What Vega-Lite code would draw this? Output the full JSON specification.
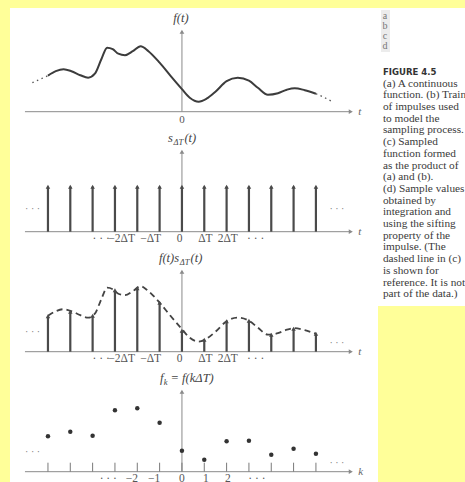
{
  "$schema": "https://vega.github.io/schema/vega-lite/v6.json",
  "background": "#ffff99",
  "padding": {"left": 10, "top": 8, "right": 0, "bottom": 0},
  "config": {"view": {"stroke": null}},
  "datasets": {
    "hAxis": [{"k": -7.03, "k2": 7.55, "h": 0}],
    "vAxis": [{"k": 0, "h": 0, "h2": 80}],
    "arrowR": [{"k": 7.56, "h": 0}],
    "arrowU": [{"k": 0, "h": 80}],
    "axisName": [
      {"panel": "a", "k": 7.9, "h": 0, "txt": "t"},
      {"panel": "b", "k": 7.9, "h": 0, "txt": "t"},
      {"panel": "c", "k": 7.9, "h": 0, "txt": "t"},
      {"panel": "d", "k": 7.9, "h": 0, "txt": "k"}
    ],
    "zeroLabel": [{"k": 0, "h": -8, "txt": "0"}],
    "curve": [
      {"k": -6.0, "h": 36}, {"k": -5.65, "h": 40.5}, {"k": -5.3, "h": 42.5}, {"k": -4.95, "h": 40.5},
      {"k": -4.55, "h": 36.5}, {"k": -4.2, "h": 34}, {"k": -3.9, "h": 38}, {"k": -3.6, "h": 53},
      {"k": -3.35, "h": 64}, {"k": -3.1, "h": 62.5}, {"k": -2.85, "h": 58}, {"k": -2.55, "h": 56.5},
      {"k": -2.2, "h": 60.5}, {"k": -1.85, "h": 65.5}, {"k": -1.5, "h": 60.5}, {"k": -1.0, "h": 49},
      {"k": -0.5, "h": 35.5}, {"k": 0.0, "h": 22.5}, {"k": 0.35, "h": 14}, {"k": 0.75, "h": 10},
      {"k": 1.1, "h": 13}, {"k": 1.5, "h": 20}, {"k": 2.0, "h": 30.5}, {"k": 2.5, "h": 34},
      {"k": 3.0, "h": 31}, {"k": 3.4, "h": 24}, {"k": 3.85, "h": 17}, {"k": 4.3, "h": 18.5},
      {"k": 4.7, "h": 22}, {"k": 5.05, "h": 23.5}, {"k": 5.5, "h": 21.5}, {"k": 6.0, "h": 18}
    ],
    "curveExt": [
      {"side": "L", "k": -6.7, "h": 29}, {"side": "L", "k": -6.35, "h": 32.5}, {"side": "L", "k": -6.0, "h": 36},
      {"side": "R", "k": 6.0, "h": 18}, {"side": "R", "k": 6.35, "h": 14.5}, {"side": "R", "k": 6.7, "h": 10.5}
    ],
    "samples": [
      {"k": -6, "h": 35.5}, {"k": -5, "h": 40}, {"k": -4, "h": 36}, {"k": -3, "h": 61.5},
      {"k": -2, "h": 63.5}, {"k": -1, "h": 49}, {"k": 0, "h": 21}, {"k": 1, "h": 12},
      {"k": 2, "h": 30.5}, {"k": 3, "h": 31}, {"k": 4, "h": 17}, {"k": 5, "h": 23}, {"k": 6, "h": 18}
    ],
    "train": [
      {"k": -6, "h": 45}, {"k": -5, "h": 45}, {"k": -4, "h": 45}, {"k": -3, "h": 45},
      {"k": -2, "h": 45}, {"k": -1, "h": 45}, {"k": 0, "h": 45}, {"k": 1, "h": 45},
      {"k": 2, "h": 45}, {"k": 3, "h": 45}, {"k": 4, "h": 45}, {"k": 5, "h": 45}, {"k": 6, "h": 45}
    ],
    "dots": [
      {"panel": "b", "k": -6.69, "h": 23, "txt": "· · ·"}, {"panel": "b", "k": 6.94, "h": 23, "txt": "· · ·"},
      {"panel": "c", "k": -6.69, "h": 20, "txt": "· · ·"}, {"panel": "c", "k": 6.94, "h": 9, "txt": "· · ·"},
      {"panel": "d", "k": -6.69, "h": 20, "txt": "· · ·"}, {"panel": "d", "k": 6.94, "h": 9, "txt": "· · ·"}
    ],
    "tickLabelsT": [
      {"k": -3.62, "h": -7, "txt": "· · ·"}, {"k": -2.7, "h": -7, "txt": "−2ΔT"}, {"k": -1.4, "h": -7, "txt": "−ΔT"},
      {"k": -0.1, "h": -7, "txt": "0"}, {"k": 1.05, "h": -7, "txt": "ΔT"}, {"k": 2.05, "h": -7, "txt": "2ΔT"},
      {"k": 3.3, "h": -7, "txt": "· · ·"}
    ],
    "tickLabelsK": [
      {"k": -3.3, "h": -7, "txt": "· · ·"}, {"k": -2.24, "h": -7, "txt": "−2"}, {"k": -1.25, "h": -7, "txt": "−1"},
      {"k": 0, "h": -7, "txt": "0"}, {"k": 1.07, "h": -7, "txt": "1"}, {"k": 2.06, "h": -7, "txt": "2"},
      {"k": 3.36, "h": -7, "txt": "· · ·"}
    ],
    "titleMain": [
      {"panel": "a", "k": -0.385, "h": 90, "txt": "f(t)"},
      {"panel": "b", "k": -0.627, "h": 90, "txt": "s"},
      {"panel": "b", "k": 0.112, "h": 90, "txt": "(t)"},
      {"panel": "c", "k": -1.03, "h": 90, "txt": "f(t)s"},
      {"panel": "c", "k": 0.385, "h": 90, "txt": "(t)"},
      {"panel": "d", "k": -0.985, "h": 90, "txt": "f"},
      {"panel": "d", "k": -0.51, "h": 90, "txt": "= f(kΔT)"}
    ],
    "titleSub": [
      {"panel": "b", "k": -0.381, "h": 87, "txt": "ΔT"},
      {"panel": "c", "k": -0.098, "h": 87, "txt": "ΔT"},
      {"panel": "d", "k": -0.82, "h": 87, "txt": "k"}
    ],
    "letterBox": [{"col": -0.023, "col2": 0.086, "line": -5.3, "line2": -1.71}],
    "letters": [
      {"col": 0.025, "line": -4.79, "txt": "a"},
      {"col": 0.025, "line": -3.93, "txt": "b"},
      {"col": 0.025, "line": -3.08, "txt": "c"},
      {"col": 0.025, "line": -2.22, "txt": "d"}
    ],
    "heading": [{"col": 0, "line": 0, "txt": "FIGURE 4.5"}],
    "caption": [
      {"col": 0, "line": 1, "txt": "(a) A continuous"},
      {"col": 0, "line": 2, "txt": "function. (b) Train"},
      {"col": 0, "line": 3, "txt": "of impulses used"},
      {"col": 0, "line": 4, "txt": "to model the"},
      {"col": 0, "line": 5, "txt": "sampling process."},
      {"col": 0, "line": 6, "txt": "(c) Sampled"},
      {"col": 0, "line": 7, "txt": "function formed"},
      {"col": 0, "line": 8, "txt": "as the product of"},
      {"col": 0, "line": 9, "txt": "(a) and (b)."},
      {"col": 0, "line": 10, "txt": "(d) Sample values"},
      {"col": 0, "line": 11, "txt": "obtained by"},
      {"col": 0, "line": 12, "txt": "integration and"},
      {"col": 0, "line": 13, "txt": "using the sifting"},
      {"col": 0, "line": 14, "txt": "property of the"},
      {"col": 0, "line": 15, "txt": "impulse. (The"},
      {"col": 0, "line": 16, "txt": "dashed line in (c)"},
      {"col": 0, "line": 17, "txt": "is shown for"},
      {"col": 0, "line": 18, "txt": "reference. It is not"},
      {"col": 0, "line": 19, "txt": "part of the data.)"}
    ]
  },
  "hconcat": [
    {
      "vconcat": [
        {
          "width": 368, "height": 120,
          "view": {"fill": "#ffffff", "stroke": null},
          "encoding": {
            "x": {"field": "k", "type": "quantitative", "scale": {"domain": [-7.7, 8.78], "nice": false, "zero": false}, "axis": null},
            "y": {"field": "h", "type": "quantitative", "scale": {"domain": [-16.3, 103.7], "nice": false, "zero": false}, "axis": null}
          },
          "layer": [
            {"data": {"name": "hAxis"}, "mark": {"type": "rule", "color": "#8a8a8a", "strokeWidth": 1}, "encoding": {"x2": {"field": "k2"}}},
            {"data": {"name": "vAxis"}, "mark": {"type": "rule", "color": "#8a8a8a", "strokeWidth": 1}, "encoding": {"y2": {"field": "h2"}}},
            {"data": {"name": "arrowR"}, "mark": {"type": "point", "shape": "triangle-right", "filled": true, "size": 22, "color": "#8a8a8a", "opacity": 1}},
            {"data": {"name": "arrowU"}, "mark": {"type": "point", "shape": "triangle-up", "filled": true, "size": 22, "color": "#8a8a8a", "opacity": 1}},
            {"data": {"name": "curveExt"}, "mark": {"type": "line", "color": "#555555", "strokeWidth": 1.3, "strokeDash": [1.5, 3.5], "interpolate": "monotone"}, "encoding": {"detail": {"field": "side"}}},
            {"data": {"name": "curve"}, "mark": {"type": "line", "color": "#3c3c3c", "strokeWidth": 2, "interpolate": "monotone"}},
            {"data": {"name": "zeroLabel"}, "mark": {"type": "text", "font": "Liberation Serif", "fontSize": 11, "color": "#555555", "baseline": "middle"}, "encoding": {"text": {"field": "txt"}}},
            {"data": {"name": "axisName"}, "transform": [{"filter": "datum.panel == 'a'"}], "mark": {"type": "text", "font": "Liberation Serif", "fontStyle": "italic", "fontSize": 11, "color": "#666666", "align": "left", "baseline": "middle"}, "encoding": {"text": {"field": "txt"}}},
            {"data": {"name": "titleMain"}, "transform": [{"filter": "datum.panel == 'a'"}], "mark": {"type": "text", "font": "Liberation Serif", "fontStyle": "italic", "fontSize": 12.5, "color": "#444444", "align": "left", "baseline": "alphabetic"}, "encoding": {"text": {"field": "txt"}}}
          ]
        },
        {
          "width": 368, "height": 120,
          "view": {"fill": "#ffffff", "stroke": null},
          "encoding": {
            "x": {"field": "k", "type": "quantitative", "scale": {"domain": [-7.7, 8.78], "nice": false, "zero": false}, "axis": null},
            "y": {"field": "h", "type": "quantitative", "scale": {"domain": [-16.3, 103.7], "nice": false, "zero": false}, "axis": null}
          },
          "layer": [
            {"data": {"name": "hAxis"}, "mark": {"type": "rule", "color": "#8a8a8a", "strokeWidth": 1}, "encoding": {"x2": {"field": "k2"}}},
            {"data": {"name": "vAxis"}, "mark": {"type": "rule", "color": "#8a8a8a", "strokeWidth": 1}, "encoding": {"y2": {"field": "h2"}}},
            {"data": {"name": "arrowR"}, "mark": {"type": "point", "shape": "triangle-right", "filled": true, "size": 22, "color": "#8a8a8a", "opacity": 1}},
            {"data": {"name": "arrowU"}, "mark": {"type": "point", "shape": "triangle-up", "filled": true, "size": 22, "color": "#8a8a8a", "opacity": 1}},
            {"data": {"name": "train"}, "mark": {"type": "rule", "color": "#4a4a4a", "strokeWidth": 2.2}, "encoding": {"y2": {"datum": 0}}},
            {"data": {"name": "train"}, "mark": {"type": "point", "shape": "triangle-up", "filled": true, "size": 20, "color": "#4a4a4a", "opacity": 1}},
            {"data": {"name": "dots"}, "transform": [{"filter": "datum.panel == 'b'"}], "mark": {"type": "text", "font": "Liberation Serif", "fontSize": 10, "color": "#777777", "baseline": "middle"}, "encoding": {"text": {"field": "txt"}}},
            {"data": {"name": "tickLabelsT"}, "mark": {"type": "text", "font": "Liberation Serif", "fontSize": 11.5, "color": "#555555", "baseline": "middle"}, "encoding": {"text": {"field": "txt"}}},
            {"data": {"name": "axisName"}, "transform": [{"filter": "datum.panel == 'b'"}], "mark": {"type": "text", "font": "Liberation Serif", "fontStyle": "italic", "fontSize": 11, "color": "#666666", "align": "left", "baseline": "middle"}, "encoding": {"text": {"field": "txt"}}},
            {"data": {"name": "titleMain"}, "transform": [{"filter": "datum.panel == 'b'"}], "mark": {"type": "text", "font": "Liberation Serif", "fontStyle": "italic", "fontSize": 12.5, "color": "#444444", "align": "left", "baseline": "alphabetic"}, "encoding": {"text": {"field": "txt"}}},
            {"data": {"name": "titleSub"}, "transform": [{"filter": "datum.panel == 'b'"}], "mark": {"type": "text", "font": "Liberation Serif", "fontStyle": "italic", "fontSize": 8.5, "color": "#444444", "align": "left", "baseline": "alphabetic"}, "encoding": {"text": {"field": "txt"}}}
          ]
        },
        {
          "width": 368, "height": 120,
          "view": {"fill": "#ffffff", "stroke": null},
          "encoding": {
            "x": {"field": "k", "type": "quantitative", "scale": {"domain": [-7.7, 8.78], "nice": false, "zero": false}, "axis": null},
            "y": {"field": "h", "type": "quantitative", "scale": {"domain": [-16.3, 103.7], "nice": false, "zero": false}, "axis": null}
          },
          "layer": [
            {"data": {"name": "hAxis"}, "mark": {"type": "rule", "color": "#8a8a8a", "strokeWidth": 1}, "encoding": {"x2": {"field": "k2"}}},
            {"data": {"name": "vAxis"}, "mark": {"type": "rule", "color": "#8a8a8a", "strokeWidth": 1}, "encoding": {"y2": {"field": "h2"}}},
            {"data": {"name": "arrowR"}, "mark": {"type": "point", "shape": "triangle-right", "filled": true, "size": 22, "color": "#8a8a8a", "opacity": 1}},
            {"data": {"name": "arrowU"}, "mark": {"type": "point", "shape": "triangle-up", "filled": true, "size": 22, "color": "#8a8a8a", "opacity": 1}},
            {"data": {"name": "curve"}, "mark": {"type": "line", "color": "#444444", "strokeWidth": 1.8, "strokeDash": [6, 4], "interpolate": "monotone"}},
            {"data": {"name": "samples"}, "mark": {"type": "rule", "color": "#4a4a4a", "strokeWidth": 2.2}, "encoding": {"y2": {"datum": 0}}},
            {"data": {"name": "samples"}, "mark": {"type": "point", "shape": "triangle-up", "filled": true, "size": 20, "color": "#4a4a4a", "opacity": 1}},
            {"data": {"name": "dots"}, "transform": [{"filter": "datum.panel == 'c'"}], "mark": {"type": "text", "font": "Liberation Serif", "fontSize": 10, "color": "#777777", "baseline": "middle"}, "encoding": {"text": {"field": "txt"}}},
            {"data": {"name": "tickLabelsT"}, "mark": {"type": "text", "font": "Liberation Serif", "fontSize": 11.5, "color": "#555555", "baseline": "middle"}, "encoding": {"text": {"field": "txt"}}},
            {"data": {"name": "axisName"}, "transform": [{"filter": "datum.panel == 'c'"}], "mark": {"type": "text", "font": "Liberation Serif", "fontStyle": "italic", "fontSize": 11, "color": "#666666", "align": "left", "baseline": "middle"}, "encoding": {"text": {"field": "txt"}}},
            {"data": {"name": "titleMain"}, "transform": [{"filter": "datum.panel == 'c'"}], "mark": {"type": "text", "font": "Liberation Serif", "fontStyle": "italic", "fontSize": 12.5, "color": "#444444", "align": "left", "baseline": "alphabetic"}, "encoding": {"text": {"field": "txt"}}},
            {"data": {"name": "titleSub"}, "transform": [{"filter": "datum.panel == 'c'"}], "mark": {"type": "text", "font": "Liberation Serif", "fontStyle": "italic", "fontSize": 8.5, "color": "#444444", "align": "left", "baseline": "alphabetic"}, "encoding": {"text": {"field": "txt"}}}
          ]
        },
        {
          "width": 368, "height": 120,
          "view": {"fill": "#ffffff", "stroke": null},
          "encoding": {
            "x": {"field": "k", "type": "quantitative", "scale": {"domain": [-7.7, 8.78], "nice": false, "zero": false}, "axis": null},
            "y": {"field": "h", "type": "quantitative", "scale": {"domain": [-16.3, 103.7], "nice": false, "zero": false}, "axis": null}
          },
          "layer": [
            {"data": {"name": "hAxis"}, "mark": {"type": "rule", "color": "#8a8a8a", "strokeWidth": 1}, "encoding": {"x2": {"field": "k2"}}},
            {"data": {"name": "vAxis"}, "mark": {"type": "rule", "color": "#8a8a8a", "strokeWidth": 1}, "encoding": {"y2": {"field": "h2"}}},
            {"data": {"name": "arrowR"}, "mark": {"type": "point", "shape": "triangle-right", "filled": true, "size": 22, "color": "#8a8a8a", "opacity": 1}},
            {"data": {"name": "arrowU"}, "mark": {"type": "point", "shape": "triangle-up", "filled": true, "size": 22, "color": "#8a8a8a", "opacity": 1}},
            {"data": {"name": "samples"}, "mark": {"type": "rule", "color": "#7a7a7a", "strokeWidth": 1}, "encoding": {"y": {"datum": 0}, "y2": {"datum": 9}}},
            {"data": {"name": "samples"}, "mark": {"type": "point", "shape": "circle", "filled": true, "size": 20, "color": "#333333", "opacity": 1}},
            {"data": {"name": "dots"}, "transform": [{"filter": "datum.panel == 'd'"}], "mark": {"type": "text", "font": "Liberation Serif", "fontSize": 10, "color": "#777777", "baseline": "middle"}, "encoding": {"text": {"field": "txt"}}},
            {"data": {"name": "tickLabelsK"}, "mark": {"type": "text", "font": "Liberation Serif", "fontSize": 11.5, "color": "#555555", "baseline": "middle"}, "encoding": {"text": {"field": "txt"}}},
            {"data": {"name": "axisName"}, "transform": [{"filter": "datum.panel == 'd'"}], "mark": {"type": "text", "font": "Liberation Serif", "fontStyle": "italic", "fontSize": 11, "color": "#666666", "align": "left", "baseline": "middle"}, "encoding": {"text": {"field": "txt"}}},
            {"data": {"name": "titleMain"}, "transform": [{"filter": "datum.panel == 'd'"}], "mark": {"type": "text", "font": "Liberation Serif", "fontStyle": "italic", "fontSize": 12.5, "color": "#444444", "align": "left", "baseline": "alphabetic"}, "encoding": {"text": {"field": "txt"}}},
            {"data": {"name": "titleSub"}, "transform": [{"filter": "datum.panel == 'd'"}], "mark": {"type": "text", "font": "Liberation Serif", "fontStyle": "italic", "fontSize": 8.5, "color": "#444444", "align": "left", "baseline": "alphabetic"}, "encoding": {"text": {"field": "txt"}}}
          ]
        }
      ],
      "spacing": 0
    },
    {
      "width": 87, "height": 298,
      "view": {"fill": "#ffffff", "stroke": null},
      "encoding": {
        "x": {"field": "col", "type": "quantitative", "scale": {"domain": [-0.06, 1], "nice": false, "zero": false}, "axis": null},
        "y": {"field": "line", "type": "quantitative", "scale": {"domain": [-5.47, 20], "reverse": true, "nice": false, "zero": false}, "axis": null}
      },
      "layer": [
        {"data": {"name": "letterBox"}, "mark": {"type": "rect", "color": "#ececec"}, "encoding": {"x2": {"field": "col2"}, "y2": {"field": "line2"}}},
        {"data": {"name": "letters"}, "mark": {"type": "text", "font": "Liberation Serif", "fontSize": 10, "color": "#777777", "align": "center", "baseline": "middle"}, "encoding": {"text": {"field": "txt"}}},
        {"data": {"name": "heading"}, "mark": {"type": "text", "font": "Liberation Sans Narrow, DejaVu Sans Condensed, Roboto", "fontWeight": "bold", "fontSize": 9.5, "color": "#333333", "align": "left", "baseline": "middle"}, "encoding": {"text": {"field": "txt"}}},
        {"data": {"name": "caption"}, "mark": {"type": "text", "font": "Liberation Serif", "fontSize": 11.3, "color": "#3a3a3a", "align": "left", "baseline": "middle"}, "encoding": {"text": {"field": "txt"}}}
      ]
    }
  ],
  "spacing": 0
}
